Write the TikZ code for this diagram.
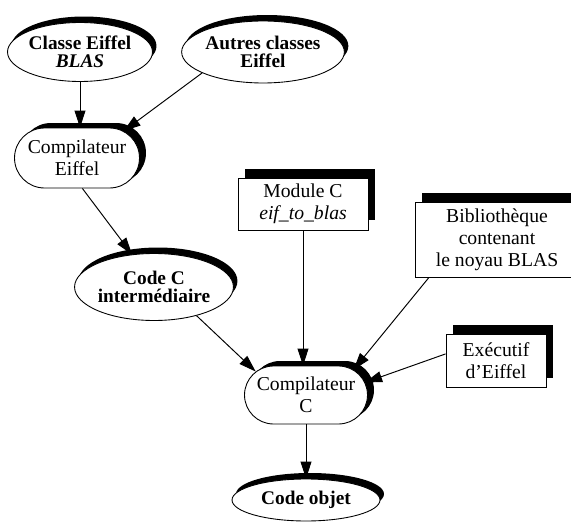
\documentclass[tikz,border=0pt]{standalone}
\usepackage{fontspec}
\setmainfont{Liberation Serif}
\usetikzlibrary{shapes.geometric,shapes.misc,shadows,arrows.meta}

\begin{document}
\begin{tikzpicture}[x=0.02cm,y=-0.02cm,
  every node/.style={align=center,inner sep=0pt,line width=0.5pt},
  fichier/.style={ellipse,draw,fill=white,font=\fontsize{11}{10.2}\selectfont\bfseries,
    drop shadow={shadow xshift=0.08cm,shadow yshift=0.12cm,fill=black,opacity=1}},
  compil/.style={rounded rectangle,draw,fill=white,font=\fontsize{11.2}{12.5}\selectfont,
    drop shadow={shadow xshift=0.13cm,shadow yshift=0.1cm,fill=black,opacity=1}},
  boite/.style={rectangle,draw,fill=white,font=\fontsize{11.2}{12.5}\selectfont,
    drop shadow={shadow xshift=0.14cm,shadow yshift=0.19cm,fill=black,opacity=1}},
  fleche/.style={line width=0.55pt,-{Triangle[length=0.34cm,width=0.22cm]}}]
  \useasboundingbox (0,0) rectangle (571,523);
  \clip (0,0) rectangle (571,523);
  % sources Eiffel
  \node[fichier,minimum width=2.7cm,minimum height=1.18cm] (blasE) at (80,52) {Classe Eiffel\\\textit{BLAS}};
  \node[fichier,minimum width=2.94cm,minimum height=1.24cm] (autres) at (263,52) {Autres classes\\Eiffel};
  \node[compil,minimum width=2.5cm,minimum height=1.2cm] (compE) at (77,158) {Compilateur\\Eiffel};
  \node[fichier,minimum width=3.08cm,minimum height=1.34cm] (codeC) at (154,287) {Code C\\interm\'ediaire};
  % parties C
  \node[boite,minimum width=2.6cm,minimum height=1.04cm] (modC) at (303,204) {Module C\\\textit{eif\_to\_blas}};
  \node[boite,minimum width=3.28cm,minimum height=1.5cm] (biblio) at (497,240) {Biblioth\`eque\\contenant\\le noyau BLAS};
  \node[boite,minimum width=2.0cm,minimum height=1.06cm] (exec) at (496,361) {Ex\'ecutif\\d’Eiffel};
  \node[compil,minimum width=2.46cm,minimum height=1.16cm] (compC) at (306,395) {Compilateur\\C};
  \node[fichier,minimum width=2.96cm,minimum height=0.84cm] (codeObj) at (306,500) {Code objet};
  % fleches
  \draw[fleche] (blasE.south) -- (blasE.south |- compE.north);
  \draw[fleche] (autres.199) -- (compE.30);
  \draw[fleche] (compE.280) -- (codeC.124);
  \draw[fleche] (codeC.-34) -- (compC.155);
  \draw[fleche] (modC.south) -- (modC.south |- compC.north);
  \draw[fleche] (biblio.209) -- (compC.28);
  \draw[fleche] (exec.172) -- (compC.12);
  \draw[fleche] (compC.south) -- (compC.south |- codeObj.north);
\end{tikzpicture}
\end{document}
